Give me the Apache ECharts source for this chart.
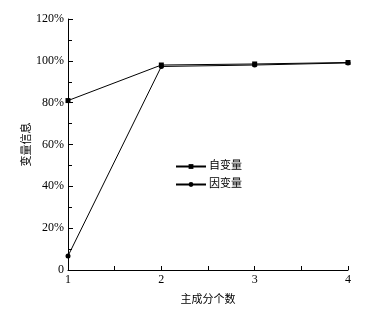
<!DOCTYPE html>
<html><head><meta charset="utf-8">
<script src="https://cdn.jsdelivr.net/npm/echarts@6/dist/echarts.min.js"></script>
<style>html,body{margin:0;padding:0;background:#fff}#c{width:365px;height:311px}</style>
</head><body><div id="c"></div>
<script>
const categories = [1, 2, 3, 4];
const seriesNames = ['自变量', '因变量'];
const xVals = [0.81, 0.98, 0.985, 0.992];
const yVals = [0.067, 0.973, 0.98, 0.99];
const font = '"Liberation Serif","Noto Sans CJK SC",serif';
const chart = echarts.init(document.getElementById('c'));
const ax = {lineStyle:{color:'#000',width:1}};
chart.setOption({
  animation:false,
  backgroundColor:'#fff',
  textStyle:{fontFamily:font,color:'#000'},
  grid:{left:68,right:17,top:19,bottom:41,containLabel:false},
  legend:{orient:'vertical',left:170,top:156,itemWidth:30,itemHeight:6,itemGap:7,
    textStyle:{fontFamily:font,fontSize:11,color:'#000',padding:[0,0,0,-2]},data:seriesNames},
  xAxis:{type:'value',min:1,max:4,interval:1,
    name:'主成分个数',nameLocation:'middle',nameGap:25,nameMoveOverlap:false,nameTextStyle:{fontSize:11,color:'#000',fontFamily:font},
    axisLine:ax,axisTick:{show:true,inside:true,length:4,lineStyle:{color:'#000'}},
    minorTick:{show:true,splitNumber:2,length:4,lineStyle:{color:'#000'}},
    axisLabel:{color:'#000',fontSize:12,margin:4,fontFamily:font},splitLine:{show:false}},
  yAxis:{type:'value',min:0,max:1.2,interval:0.2,
    name:'变量信息',nameLocation:'middle',nameGap:35,nameMoveOverlap:false,nameTextStyle:{fontSize:11,color:'#000',fontFamily:font},
    axisLine:{show:true,lineStyle:{color:'#000',width:1}},axisTick:{show:true,inside:true,length:5,lineStyle:{color:'#000'}},
    minorTick:{show:true,splitNumber:2,length:4,lineStyle:{color:'#000'}},
    axisLabel:{color:'#000',fontSize:12,margin:4,fontFamily:font,
      formatter:v=>v===0?'0':Math.round(v*100)+'%'},splitLine:{show:false}},
  series:[
    {name:seriesNames[0],type:'line',data:categories.map((c,i)=>[c,xVals[i]]),symbol:'rect',symbolSize:5,
     lineStyle:{color:'#000',width:1},itemStyle:{color:'#000'}},
    {name:seriesNames[1],type:'line',data:categories.map((c,i)=>[c,yVals[i]]),symbol:'circle',symbolSize:5,
     lineStyle:{color:'#000',width:1},itemStyle:{color:'#000'}}
  ]
});
</script></body></html>
